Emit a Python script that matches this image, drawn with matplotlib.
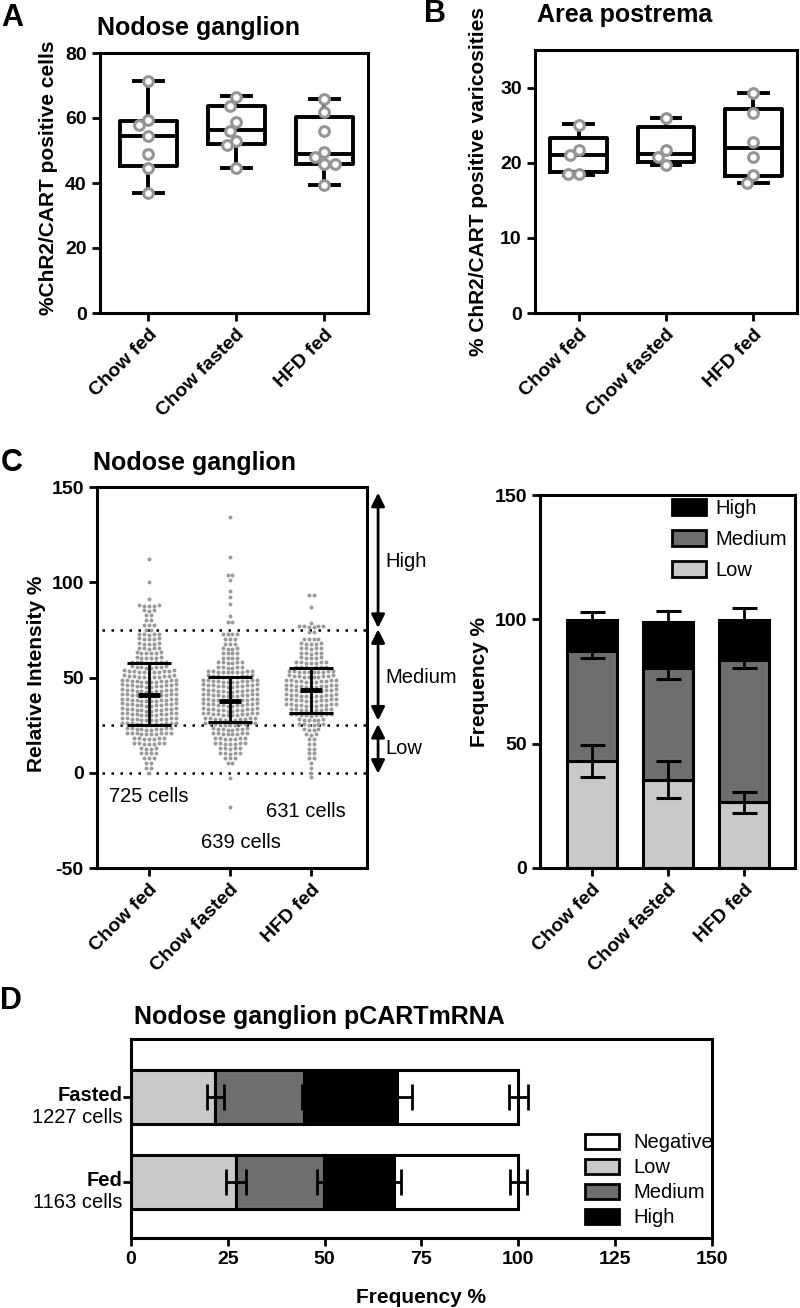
import matplotlib
matplotlib.use("Agg")
import matplotlib.pyplot as plt
import numpy as np
from matplotlib.patches import Patch

plt.rcParams['font.family'] = ['Liberation Sans', 'DejaVu Sans']
plt.rcParams['font.weight'] = 'bold'
plt.rcParams['axes.labelweight'] = 'bold'
plt.rcParams['axes.unicode_minus'] = False

W, H = 800, 1308

groups = ["Chow fed", "Chow fasted", "HFD fed"]

# ---- A: nodose ganglion, %ChR2/CART positive cells ----
a_points = [
    [71.3, 59.4, 57.9, 54.5, 48.9, 44.5, 37.0],
    [66.5, 63.8, 58.7, 56.0, 53.0, 51.7, 44.5],
    [66.0, 62.0, 56.0, 49.5, 48.0, 46.0, 46.0, 39.3],
]
a_whishi = [71.3, 66.8, 66.0]
a_q3 = [59.2, 63.6, 60.2]
a_med = [54.6, 56.2, 48.9]
a_q1 = [45.2, 52.0, 46.0]
a_whislo = [37.0, 44.5, 39.3]

# ---- B: area postrema, % ChR2/CART positive varicosities ----
b_points = [
    [25.0, 21.7, 21.0, 18.5, 18.5],
    [25.9, 21.7, 20.8, 19.7],
    [29.3, 26.6, 22.8, 20.7, 18.4, 17.3],
]
b_whishi = [25.2, 26.0, 29.3]
b_q3 = [23.3, 24.7, 27.1]
b_med = [21.0, 21.2, 21.9]
b_q1 = [18.7, 20.1, 18.2]
b_whislo = [18.4, 19.7, 17.3]

# ---- C left: relative intensity, rows of dots (level, number of dots) ----
fed_levels = [112, 100, 91, 87.5, 85, 82.5, 80, 77.5, 75, 72.5, 70, 67.5, 65, 62.5,
              60, 57.5, 55, 52.5, 50, 47.5, 45, 42.5, 40, 37.5, 35, 32.5, 30, 27.5,
              25, 22.5, 20, 17.5, 15, 12.5, 10, 7.5, 5, 2.5, 0]
fed_counts = [1, 1, 1, 5, 3, 2, 2, 3, 2, 5, 5, 5, 5, 6,
              6, 8, 8, 11, 11, 12, 12, 12, 12, 12, 12, 12, 12, 12,
              12, 10, 10, 7, 7, 4, 4, 3, 2, 2, 1]
fasted_levels = [134, 113, 103.5, 101, 95.5, 92, 88.5, 82.5, 79, 72.5, 70, 67.5, 65,
                 62.5, 60, 57.5, 55, 52.5, 50, 47.5, 45, 42.5, 40, 37.5, 35, 32.5, 30,
                 27.5, 25, 22.5, 20, 17.5, 15, 12.5, 10, 7.5, 5, -3, -18]
fasted_counts = [1, 1, 2, 1, 1, 1, 1, 1, 2, 4, 3, 3, 4,
                 4, 4, 6, 6, 10, 10, 12, 12, 12, 12, 12, 12, 12, 12,
                 11, 11, 8, 8, 7, 7, 5, 5, 3, 2, 1, 1]
hfd_levels = [93, 87, 78.5, 76.5, 73.5, 70, 67.5, 65, 62.5, 60, 57.5, 55, 52.5, 50,
              47.5, 45, 42.5, 40, 37.5, 35, 32.5, 30, 27.5, 25, 22.5, 20, 17.5, 15,
              12.5, 10, 7.5, 5, 2.5, 0, -2]
hfd_counts = [2, 1, 1, 6, 2, 4, 5, 5, 5, 5, 7, 7, 10, 10,
              11, 11, 11, 11, 11, 11, 9, 9, 6, 6, 4, 3, 2, 2,
              2, 2, 2, 1, 1, 1, 1]
c_mean = [40.8, 37.8, 43.4]
c_sd_hi = [57.8, 50.5, 55.2]
c_sd_lo = [25.1, 26.8, 31.4]
c_cells = ["725 cells", "639 cells", "631 cells"]

# ---- C right: frequency of intensity class ----
freq_low = [43.0, 35.5, 26.5]
freq_med = [44.2, 45.0, 57.1]
freq_high = [12.6, 18.5, 16.2]
err_low = [6.3, 7.5, 4.2]
err_med = [2.9, 4.4, 3.2]
err_high = [3.0, 4.3, 4.8]

# ---- D: pCARTmRNA ----
d_groups = ["Fed", "Fasted"]
d_cells = ["1163 cells", "1227 cells"]
d_low = [27.1, 21.8]
d_med = [22.7, 22.9]
d_high = [18.0, 24.1]
d_neg = [32.2, 31.2]
d_err_low = [2.5, 2.1]
d_err_med = [1.7, 0.6]
d_err_high = [1.8, 3.7]
d_err_neg = [2.2, 2.5]

LOW_C = '#c9c9c9'
MED_C = '#6e6e6e'
DOT_C = '#9a9a9a'


def px_rect(l, t, r, b):
    return [l / W, 1 - b / H, (r - l) / W, (b - t) / H]


def style(ax, size=14):
    for s in ax.spines.values():
        s.set_linewidth(2.2)
    ax.tick_params(width=2, length=6, labelsize=size)


def swarm(vals, center, ppx, ppy, diam=10.5):
    # simple beeswarm in pixel space
    order = np.argsort(vals)[::-1]
    placed = []
    xs = np.zeros(len(vals))
    for i in order:
        y = vals[i] * ppy
        cands = [0.0]
        for px, py in placed:
            dy = abs(y - py)
            if dy < diam:
                dx = np.sqrt(diam ** 2 - dy ** 2)
                cands += [px - dx, px + dx]
        cands.sort(key=abs)
        for c in cands:
            if all((c - px) ** 2 + (y - py) ** 2 >= diam ** 2 - 1e-6 for px, py in placed):
                break
        placed.append((c, y))
        xs[i] = center + c / ppx
    return xs


def box_panel(ax, pts, whislo, q1, med, q3, whishi, ylim, ppx, ppy):
    stats = [dict(med=med[i], q1=q1[i], q3=q3[i], whislo=whislo[i],
                  whishi=whishi[i], fliers=[]) for i in range(3)]
    lp = dict(color='k', lw=2.8)
    ax.bxp(stats, positions=[0, 1, 2], widths=0.65, showfliers=False,
           boxprops=lp, medianprops=lp, whiskerprops=lp, capprops=lp,
           capwidths=0.33)
    for i, p in enumerate(pts):
        xs = swarm(np.array(p), i, ppx, ppy)
        ax.plot(xs, p, 'o', ms=7, mfc='white', mec='#959595', mew=2.2, zorder=5)
    ax.set_ylim(*ylim)
    ax.set_xticks([0, 1, 2])
    ax.set_xticklabels(groups, rotation=45, ha='right', rotation_mode='anchor')
    style(ax)


fig = plt.figure(figsize=(8, 13.08), dpi=100)

# ---------------- A ----------------
axA = fig.add_axes(px_rect(100, 53, 368, 313))
box_panel(axA, a_points, a_whislo, a_q1, a_med, a_q3, a_whishi, (0, 80),
          268 / 3.05, 260 / 80)
axA.set_xlim(-0.55, 2.5)
axA.set_yticks([0, 20, 40, 60, 80])
axA.set_ylabel('%ChR2/CART positive cells', fontsize=15, fontweight='bold')
axA.yaxis.set_label_coords(-0.155, 0.52)

# ---------------- B ----------------
axB = fig.add_axes(px_rect(535, 50, 797, 313))
box_panel(axB, b_points, b_whislo, b_q1, b_med, b_q3, b_whishi, (0, 35),
          262 / 3.0, 263 / 35)
axB.set_xlim(-0.5, 2.5)
axB.set_yticks([0, 10, 20, 30])
axB.set_ylabel('% ChR2/CART positive varicosities', fontsize=15, fontweight='bold')
axB.yaxis.set_label_coords(-0.18, 0.5)

# ---------------- C left ----------------
axC = fig.add_axes(px_rect(97, 487, 367, 868))
step = 0.061
for i, (lv, ct) in enumerate([(fed_levels, fed_counts),
                              (fasted_levels, fasted_counts),
                              (hfd_levels, hfd_counts)]):
    xs, ys = [], []
    for v, n in zip(lv, ct):
        k = np.arange(n) - (n - 1) / 2
        xs.extend(i + k * step)
        # rows bend slightly upward at the sides, like the prism scatter
        ys.extend(v + 0.25 * np.abs(k))
    axC.scatter(xs, ys, s=8, color=DOT_C, lw=0, zorder=2)
axC.hlines([0, 25, 75], -0.58, 2.69, colors='k', linestyles=(0, (1, 2.6)), lw=1.8, zorder=1)
axC.errorbar([0, 1, 2], c_mean,
             yerr=[np.array(c_mean) - np.array(c_sd_lo), np.array(c_sd_hi) - np.array(c_mean)],
             fmt='none', ecolor='k', elinewidth=2, capsize=16, capthick=2.2, zorder=4)
axC.hlines(c_mean, np.arange(3) - 0.14, np.arange(3) + 0.14, colors='k', lw=3.5, zorder=4)
axC.set_xlim(-0.64, 2.69)
axC.set_ylim(-50, 150)
axC.set_yticks([-50, 0, 50, 100, 150])
axC.set_xticks([0, 1, 2])
axC.set_xticklabels(groups, rotation=45, ha='right', rotation_mode='anchor')
style(axC)
axC.set_ylabel('Relative Intensity %', fontsize=15, fontweight='bold')
axC.yaxis.set_label_coords(-0.19, 0.51)
for x, y, t in zip([0.0, 1.13, 1.93], [-12.6, -36.7, -20.5], c_cells):
    axC.text(x, y, t, ha='center', va='center', fontsize=14.5, fontweight='normal')

tr = axC.get_yaxis_transform()
for y0, y1 in [(76, 147), (27.4, 75.3), (-0.5, 25.6)]:
    axC.annotate('', xy=(1.041, y1), xytext=(1.041, y0), xycoords=tr, textcoords=tr,
                 arrowprops=dict(arrowstyle='<|-|>', lw=2, color='k', mutation_scale=20,
                                 shrinkA=0, shrinkB=0), annotation_clip=False)
for y, t in [(111, 'High'), (50, 'Medium'), (12.5, 'Low')]:
    axC.text(1.067, y, t, transform=tr, ha='left', va='center', fontsize=14.5,
             fontweight='normal')

# ---------------- C right ----------------
axF = fig.add_axes(px_rect(540, 495, 795, 868))
x = np.arange(3)
low = np.array(freq_low)
med = np.array(freq_med)
high = np.array(freq_high)
bw = 0.66
axF.bar(x, low, bw, color=LOW_C, edgecolor='k', lw=2.2, zorder=2)
axF.bar(x, med, bw, bottom=low, color=MED_C, edgecolor='k', lw=2.2, zorder=2)
axF.bar(x, high, bw, bottom=low + med, color='k', edgecolor='k', lw=2.2, zorder=2)
ek = dict(fmt='none', ecolor='k', elinewidth=2, capsize=9, capthick=2.2, zorder=3)
axF.errorbar(x, low, yerr=err_low, **ek)
axF.errorbar(x, low + med, yerr=err_med, **ek)
axF.errorbar(x, low + med + high, yerr=err_high, **ek)
axF.set_xlim(-0.68, 2.67)
axF.set_ylim(0, 150)
axF.set_yticks([0, 50, 100, 150])
axF.set_xticks([0, 1, 2])
axF.set_xticklabels(groups, rotation=45, ha='right', rotation_mode='anchor')
style(axF)
axF.set_ylabel('Frequency %', fontsize=15, fontweight='bold')
axF.yaxis.set_label_coords(-0.2, 0.5)
handles = [Patch(fc='k', ec='k', lw=2), Patch(fc=MED_C, ec='k', lw=2),
           Patch(fc=LOW_C, ec='k', lw=2)]
axF.legend(handles, ['High', 'Medium', 'Low'], loc='upper left',
           bbox_to_anchor=(0.5, 1.0), borderaxespad=0, borderpad=0.2,
           frameon=False, handlelength=1.7, handleheight=0.8, labelspacing=0.6,
           handletextpad=0.5, prop={'weight': 'normal', 'size': 14.5})

# ---------------- D ----------------
axD = fig.add_axes(px_rect(131, 1039, 712, 1238))
y = np.arange(2)
dl = np.array(d_low)
dm = np.array(d_med)
dh = np.array(d_high)
dn = np.array(d_neg)
bh = 0.64
axD.barh(y, dl, bh, color=LOW_C, edgecolor='k', lw=2.2, zorder=2)
axD.barh(y, dm, bh, left=dl, color=MED_C, edgecolor='k', lw=2.2, zorder=2)
axD.barh(y, dh, bh, left=dl + dm, color='k', edgecolor='k', lw=2.2, zorder=2)
axD.barh(y, dn, bh, left=dl + dm + dh, color='white', edgecolor='k', lw=2.2, zorder=2)
ekd = dict(fmt='none', ecolor='k', elinewidth=2, capsize=9.5, capthick=2, zorder=3)
axD.errorbar(dl, y, xerr=d_err_low, **ekd)
axD.errorbar(dl + dm, y, xerr=d_err_med, **ekd)
axD.errorbar(dl + dm + dh, y, xerr=d_err_high, **ekd)
axD.errorbar(dl + dm + dh + dn, y, xerr=d_err_neg, **ekd)
axD.set_xlim(0, 150)
axD.set_ylim(-0.66, 1.68)
axD.set_xticks([0, 25, 50, 75, 100, 125, 150])
axD.set_yticks([0, 1])
axD.set_yticklabels(['', ''])
style(axD, size=14)
axD.set_xlabel('Frequency %', fontsize=15, fontweight='bold')
axD.xaxis.set_label_coords(0.5, -0.25)
for yy, g, c in zip(y, d_groups, d_cells):
    axD.annotate(g, xy=(-0.014, yy), xycoords=('axes fraction', 'data'),
                 xytext=(0, 1), textcoords='offset points', ha='right', va='center',
                 fontsize=14.5, fontweight='bold')
    axD.annotate(c, xy=(-0.014, yy), xycoords=('axes fraction', 'data'),
                 xytext=(0, -15), textcoords='offset points', ha='right', va='center',
                 fontsize=14.5, fontweight='normal')
hd = [Patch(fc='white', ec='k', lw=2), Patch(fc=LOW_C, ec='k', lw=2),
      Patch(fc=MED_C, ec='k', lw=2), Patch(fc='k', ec='k', lw=2)]
axD.legend(hd, ['Negative', 'Low', 'Medium', 'High'], loc='center left',
           bbox_to_anchor=(0.75, 0.29), frameon=False, handlelength=1.7,
           handleheight=0.75, labelspacing=0.3, handletextpad=0.7,
           prop={'weight': 'normal', 'size': 14.5})

# ---------------- titles and panel letters ----------------
def ftext(px, py, s, **kw):
    fig.text(px / W, 1 - py / H, s, va='center', **kw)

ftext(97, 28, 'Nodose ganglion', fontsize=18)
ftext(537, 15, 'Area postrema', fontsize=18)
ftext(93, 463, 'Nodose ganglion', fontsize=18)
ftext(134, 1017, 'Nodose ganglion pCARTmRNA', fontsize=18)
ftext(1, 18, 'A', fontsize=22)
ftext(424, 14, 'B', fontsize=22)
ftext(1, 463, 'C', fontsize=22)
ftext(0, 1001, 'D', fontsize=22)

fig.savefig('out.png', dpi=100)
